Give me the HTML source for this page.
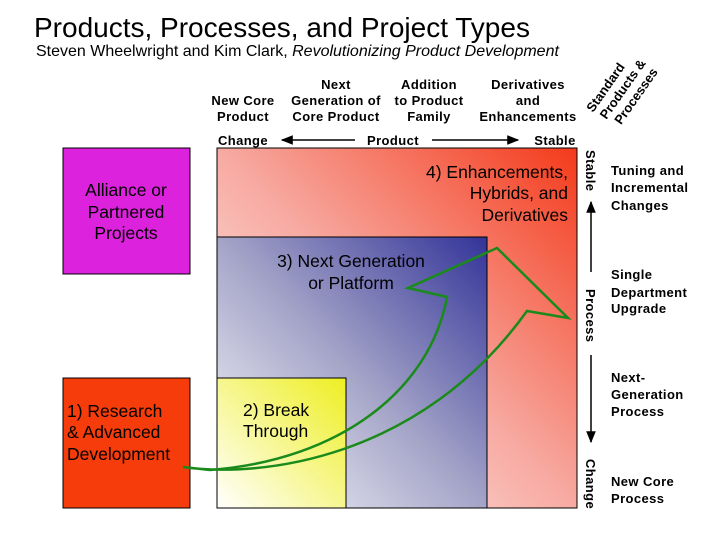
<!DOCTYPE html>
<html><head><meta charset="utf-8"><style>
html,body{margin:0;padding:0;background:#fff;}
svg{display:block;font-family:"Liberation Sans",Arial,sans-serif;}
</style></head><body>
<svg width="720" height="540" viewBox="0 0 720 540" xmlns="http://www.w3.org/2000/svg">
<defs>
<linearGradient id="gr" x1="0" y1="1" x2="1" y2="0"><stop offset="0" stop-color="#ffffff"/><stop offset="0.5" stop-color="#f7aaa2"/><stop offset="1" stop-color="#f43a1a"/></linearGradient>
<linearGradient id="gb" x1="0" y1="1" x2="1" y2="0"><stop offset="0" stop-color="#ffffff"/><stop offset="0.5" stop-color="#a4a4c8"/><stop offset="1" stop-color="#333399"/></linearGradient>
<linearGradient id="gy" x1="0" y1="1" x2="1" y2="0"><stop offset="0" stop-color="#ffffff"/><stop offset="1" stop-color="#eeee22"/></linearGradient>
<marker id="ah" viewBox="0 0 10 10" refX="9" refY="5" markerWidth="8" markerHeight="8" orient="auto"><path d="M0,1 L10,5 L0,9z" fill="#000"/></marker>
</defs>
<text x="34" y="37" font-size="28">Products, Processes, and Project Types</text>
<text x="36" y="56" font-size="16">Steven Wheelwright and Kim Clark, <tspan font-style="italic">Revolutionizing Product Development</tspan></text>

<g font-size="13" font-weight="bold" text-anchor="middle" letter-spacing="0.4">
<text x="243" y="105">New Core</text><text x="243" y="121">Product</text>
<text x="336" y="89">Next</text><text x="336" y="105">Generation of</text><text x="336" y="121">Core Product</text>
<text x="429" y="89">Addition</text><text x="429" y="105">to Product</text><text x="429" y="121">Family</text>
<text x="528" y="89">Derivatives</text><text x="528" y="105">and</text><text x="528" y="121">Enhancements</text>
<text x="243" y="145">Change</text><text x="393" y="145">Product</text><text x="555" y="145">Stable</text>
</g>
<g font-size="13" font-weight="bold" transform="translate(593,113) rotate(-55)">
<text x="0" y="0">Standard</text><text x="2" y="15">Products &amp;</text><text x="6" y="30">Processes</text>
</g>
<line x1="355" y1="140" x2="282" y2="140" stroke="#000" stroke-width="1.5" marker-end="url(#ah)"/>
<line x1="432" y1="140" x2="518" y2="140" stroke="#000" stroke-width="1.5" marker-end="url(#ah)"/>

<rect x="217" y="148" width="360" height="360" fill="url(#gr)" stroke="#000"/>
<rect x="217" y="237" width="270" height="271" fill="url(#gb)" stroke="#000"/>
<rect x="217" y="378" width="129" height="130" fill="url(#gy)" stroke="#000"/>
<rect x="63" y="148" width="127" height="126" fill="#dd22dd" stroke="#000"/>
<rect x="63" y="378" width="127" height="130" fill="#f53c0a" stroke="#000"/>

<g font-size="17.5">
<text x="126" y="196" text-anchor="middle">Alliance or</text>
<text x="126" y="218" text-anchor="middle">Partnered</text>
<text x="126" y="239" text-anchor="middle">Projects</text>
<text x="67" y="417">1) Research</text><text x="67" y="438">&amp; Advanced</text><text x="67" y="460">Development</text>
<text x="243" y="416">2) Break</text><text x="243" y="437">Through</text>
<text x="351" y="267" text-anchor="middle">3) Next Generation</text>
<text x="351" y="289" text-anchor="middle">or Platform</text>
<text x="568" y="178" text-anchor="end">4) Enhancements,</text>
<text x="568" y="199" text-anchor="end">Hybrids, and</text>
<text x="568" y="221" text-anchor="end">Derivatives</text>
</g>

<path d="M183,467 C260,478 420,460 527,311 L568,318 L497,248 L408,288 L447,297 C430,390 340,460 210,470 Z" fill="none" stroke="#1a8a1a" stroke-width="2.5" stroke-linejoin="miter"/>

<g font-size="13" font-weight="bold" letter-spacing="0.4">
<text transform="translate(586,150) rotate(90)">Stable</text>
<text transform="translate(586,289) rotate(90)">Process</text>
<text transform="translate(586,459) rotate(90)">Change</text>
<text x="611" y="175">Tuning and</text><text x="611" y="192">Incremental</text><text x="611" y="210">Changes</text>
<text x="611" y="279">Single</text><text x="611" y="297">Department</text><text x="611" y="313">Upgrade</text>
<text x="611" y="382">Next-</text><text x="611" y="399">Generation</text><text x="611" y="416">Process</text>
<text x="611" y="486">New Core</text><text x="611" y="503">Process</text>
</g>
<line x1="591" y1="272" x2="591" y2="202" stroke="#000" stroke-width="1.5" marker-end="url(#ah)"/>
<line x1="591" y1="355" x2="591" y2="442" stroke="#000" stroke-width="1.5" marker-end="url(#ah)"/>
</svg>
</body></html>
